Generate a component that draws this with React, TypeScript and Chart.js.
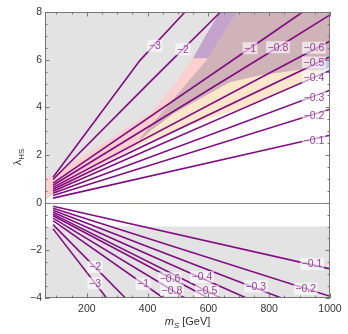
import React, { useEffect, useRef } from "react";
import { Chart, registerables } from "chart.js";

Chart.register(...registerables);

const X_MIN = 62.5;
const X_MAX = 1000;
const Y_MIN = -4;
const Y_MAX = 8;

const xTickValues = [200, 400, 600, 800, 1000];
const yTickValues = [-4, -2, 0, 2, 4, 6, 8];
const xMinorStep = 50;
const yMinorStep = 0.5;

// contour levels and paths (m_S, lambda_HS)
const upperLevels = ["−3", "−2", "−1", "−0.8", "−0.6", "−0.5", "−0.4", "−0.3", "−0.2", "−0.1"];
const upperPaths: number[][][] = [
  [[89, 1.07], [375, 5.97], [523, 8.0]],
  [[89, 0.97], [408, 5.07], [640, 8.0]],
  [[89, 0.82], [737, 6.48], [910, 8.0]],
  [[89, 0.73], [829, 6.52], [1000, 7.88]],
  [[89, 0.64], [1000, 6.78]],
  [[89, 0.56], [1000, 6.12]],
  [[89, 0.48], [1000, 5.55]],
  [[89, 0.4], [1000, 4.72]],
  [[89, 0.3], [1000, 3.92]],
  [[89, 0.19], [1000, 2.83]],
];
const upperLabelPos: number[][] = [
  [424, 6.58], [516, 6.44], [737, 6.48], [829, 6.52], [947, 6.5],
  [947, 5.88], [947, 5.26], [947, 4.42], [947, 3.67], [947, 2.62],
];

const lowerLevels = ["−3", "−2", "−1", "−0.8", "−0.6", "−0.5", "−0.4", "−0.3", "−0.2", "−0.1"];
const lowerPaths: number[][][] = [
  [[89, -1.1], [265, -4]],
  [[89, -0.92], [327, -4]],
  [[89, -0.75], [452, -4]],
  [[89, -0.65], [523, -4]],
  [[89, -0.55], [600, -4]],
  [[89, -0.48], [640, -4]],
  [[89, -0.4], [725, -4]],
  [[89, -0.32], [840, -4]],
  [[89, -0.23], [1000, -3.93]],
  [[89, -0.15], [1000, -2.78]],
];
const lowerLabelPos: number[][] = [
  [227, -3.38], [227, -2.7], [385, -3.4], [480, -3.67], [474, -3.17],
  [595, -3.71], [579, -3.12], [756, -3.51], [920, -3.61], [941, -2.57],
];

// shaded regions (m_S, lambda_HS) polygons
const grayUpper = [[X_MIN, 0], [X_MIN, Y_MAX], [X_MAX, Y_MAX], [X_MAX, 0]];
const grayLower = [[X_MIN, Y_MIN], [X_MIN, -1], [X_MAX, -1], [X_MAX, Y_MIN]];
const grayBoundary = [[62.5, 1.08], [89, 1.15], [243, 2.41], [408, 3.75], [487, 4.93], [549, 6.06], [595, 7.1], [638, 8]];
const whiteBoundary = [[62.5, 0.08], [89, 0.36], [243, 1.57], [408, 2.62], [539, 3.25], [737, 4.09], [901, 5.01], [1000, 5.68]];
const yellowTop = [[360, 2.42], [408, 3.0], [487, 3.75], [605, 4.59], [671, 5.05], [770, 5.35], [900, 5.58], [1000, 5.7]];
const mauveLeft = [[375, 2.7], [599, 6.06], [694, 8]];
const purpleRegion = [[549, 6.06], [595, 7.1], [638, 8], [694, 8], [599, 6.06]];
const blueRegion = [[900, 5.58], [1000, 6.06], [1000, 5.6]];

const pinkRegion = [...grayBoundary, [X_MAX, Y_MAX], [X_MAX, 0], [X_MIN, 0]];
const mauveRegion = [...mauveLeft, [X_MAX, Y_MAX], [X_MAX, 0], [375, 0]];
const yellowRegion = [...yellowTop, [X_MAX, 0], [360, 0]];
const whiteRegion = [...whiteBoundary, [X_MAX, 0], [X_MIN, 0]];

const regionList: [number[][], string][] = [
  [grayUpper, "#e3e3e3"],
  [grayLower, "#e3e3e3"],
  [pinkRegion, "#fdcfcf"],
  [mauveRegion, "#cfb3b9"],
  [yellowRegion, "#fde7ca"],
  [purpleRegion, "#c4a3cc"],
  [blueRegion, "#cbc8ec"],
  [whiteRegion, "#ffffff"],
];

const LINE_COLOR = "#820c82";
const LABEL_COLOR = "#993f99";
const FRAME_COLOR = "#777777";
const TEXT_COLOR = "#333333";
const FONT = '"Liberation Sans", Arial, sans-serif';

const regionPlugin = {
  id: "regions",
  beforeDatasetsDraw(chart: any) {
    const { ctx, chartArea: a, scales } = chart;
    const x = scales.x, y = scales.y;
    ctx.save();
    ctx.beginPath();
    ctx.rect(a.left, a.top, a.right - a.left, a.bottom - a.top);
    ctx.clip();
    for (const [pts, color] of regionList) {
      ctx.beginPath();
      pts.forEach(([m, l], i) => {
        const px = x.getPixelForValue(m), py = y.getPixelForValue(l);
        if (i) ctx.lineTo(px, py); else ctx.moveTo(px, py);
      });
      ctx.closePath();
      ctx.fillStyle = color;
      ctx.fill();
    }
    const y0 = Math.round(y.getPixelForValue(0)) + 0.5;
    ctx.beginPath();
    ctx.moveTo(a.left, y0);
    ctx.lineTo(a.right, y0);
    ctx.strokeStyle = "#8c8c8c";
    ctx.lineWidth = 1;
    ctx.stroke();
    ctx.restore();
  },
};

const labelPlugin = {
  id: "contourLabels",
  afterDatasetsDraw(chart: any) {
    const { ctx, scales } = chart;
    const x = scales.x, y = scales.y;
    ctx.save();
    ctx.font = `10.5px ${FONT}`;
    ctx.textAlign = "center";
    ctx.textBaseline = "middle";
    const draw = (levels: string[], pos: number[][]) => {
      levels.forEach((t, i) => {
        const px = x.getPixelForValue(pos[i][0]);
        const py = y.getPixelForValue(pos[i][1]);
        const w = ctx.measureText(t).width;
        ctx.fillStyle = "rgba(255,255,255,0.6)";
        ctx.fillRect(px - w / 2 - 1.5, py - 6, w + 3, 12);
        ctx.fillStyle = LABEL_COLOR;
        ctx.fillText(t, px, py + 0.5);
      });
    };
    draw(upperLevels, upperLabelPos);
    draw(lowerLevels, lowerLabelPos);
    ctx.restore();
  },
};

const framePlugin = {
  id: "frame",
  afterDraw(chart: any) {
    const { ctx, chartArea: a, scales } = chart;
    const x = scales.x, y = scales.y;
    ctx.save();
    ctx.strokeStyle = FRAME_COLOR;
    ctx.lineWidth = 1;
    ctx.strokeRect(a.left + 0.5, a.top + 0.5, a.right - a.left - 1, a.bottom - a.top - 1);
    ctx.beginPath();
    for (let v = 100; v <= X_MAX; v += xMinorStep) {
      const major = xTickValues.includes(v);
      const len = major ? 4.5 : 2.5;
      const px = Math.round(x.getPixelForValue(v)) + 0.5;
      ctx.moveTo(px, a.bottom); ctx.lineTo(px, a.bottom - len);
      ctx.moveTo(px, a.top); ctx.lineTo(px, a.top + len);
    }
    for (let v = Y_MIN; v <= Y_MAX + 1e-9; v += yMinorStep) {
      const major = yTickValues.includes(v);
      const len = major ? 4.5 : 2.5;
      const py = Math.round(y.getPixelForValue(v)) + 0.5;
      ctx.moveTo(a.left, py); ctx.lineTo(a.left + len, py);
      ctx.moveTo(a.right, py); ctx.lineTo(a.right - len, py);
    }
    ctx.stroke();

    // axis titles
    ctx.fillStyle = TEXT_COLOR;
    ctx.textBaseline = "alphabetic";
    const big = `italic 11px ${FONT}`;
    const sub = `italic 8px ${FONT}`;
    const norm = `11px ${FONT}`;
    ctx.font = big; const wm = ctx.measureText("m").width;
    ctx.font = sub; const ws = ctx.measureText("S").width;
    ctx.font = norm; const wg = ctx.measureText(" [GeV]").width;
    const total = wm + ws + wg;
    let sx = (a.left + a.right) / 2 - total / 2;
    const by = 325;
    ctx.textAlign = "left";
    ctx.font = big; ctx.fillText("m", sx, by); sx += wm;
    ctx.font = sub; ctx.fillText("S", sx, by + 2.5); sx += ws;
    ctx.font = norm; ctx.fillText(" [GeV]", sx, by);

    ctx.translate(21, (a.top + a.bottom) / 2 + 2);
    ctx.rotate(-Math.PI / 2);
    ctx.font = `11px ${FONT}`; const wl = ctx.measureText("λ").width;
    ctx.font = `8px ${FONT}`; const wh = ctx.measureText("HS").width;
    let tx = -(wl + wh) / 2;
    ctx.font = `11px ${FONT}`; ctx.fillText("λ", tx, 0); tx += wl;
    ctx.font = `8px ${FONT}`; ctx.fillText("HS", tx, 2.5);
    ctx.restore();
  },
};

function makeDatasets(paths: number[][][]) {
  return paths.map((p) => ({
    data: p.map(([m, l]) => ({ x: m, y: l })),
    borderColor: LINE_COLOR,
    borderWidth: 1.6,
    pointRadius: 0,
    fill: false,
    tension: 0,
  }));
}

export default function App() {
  const ref = useRef<HTMLCanvasElement>(null);
  useEffect(() => {
    const canvas = ref.current!;
    const chart = new Chart(canvas, {
      type: "line",
      data: { datasets: [...makeDatasets(upperPaths), ...makeDatasets(lowerPaths)] as any },
      options: {
        animation: false,
        responsive: false,
        maintainAspectRatio: false,
        layout: { padding: { left: 0, right: 18, top: 12, bottom: 0 }, autoPadding: false } as any,
        plugins: { legend: { display: false }, tooltip: { enabled: false } },
        scales: {
          x: {
            type: "linear",
            min: X_MIN,
            max: X_MAX,
            afterBuildTicks: (s: any) => { s.ticks = xTickValues.map((v) => ({ value: v })); },
            afterFit: (s: any) => { s.height = 36; },
            grid: { display: false, drawTicks: false, tickLength: 0 },
            border: { display: false },
            ticks: {
              color: TEXT_COLOR,
              font: { family: FONT, size: 10.5 },
              padding: 5,
              maxRotation: 0,
              autoSkip: false,
              callback: (v: any) => String(v),
            },
          },
          y: {
            type: "linear",
            min: Y_MIN,
            max: Y_MAX,
            afterBuildTicks: (s: any) => { s.ticks = yTickValues.map((v) => ({ value: v })); },
            afterFit: (s: any) => { s.width = 45; },
            grid: { display: false, drawTicks: false, tickLength: 0 },
            border: { display: false },
            ticks: {
              color: TEXT_COLOR,
              font: { family: FONT, size: 10.5 },
              padding: 3,
              autoSkip: false,
              callback: (v: any) => String(v).replace("-", "\u2212"),
            },
          },
        },
      },
      plugins: [regionPlugin, labelPlugin, framePlugin],
    });
    return () => chart.destroy();
  }, []);
  return (
    <div style={{ position: "fixed", left: 0, top: 0, width: 348, height: 334, background: "#fff" }}>
      <canvas ref={ref} width={348} height={334} style={{ display: "block", width: 348, height: 334 }} />
    </div>
  );
}
